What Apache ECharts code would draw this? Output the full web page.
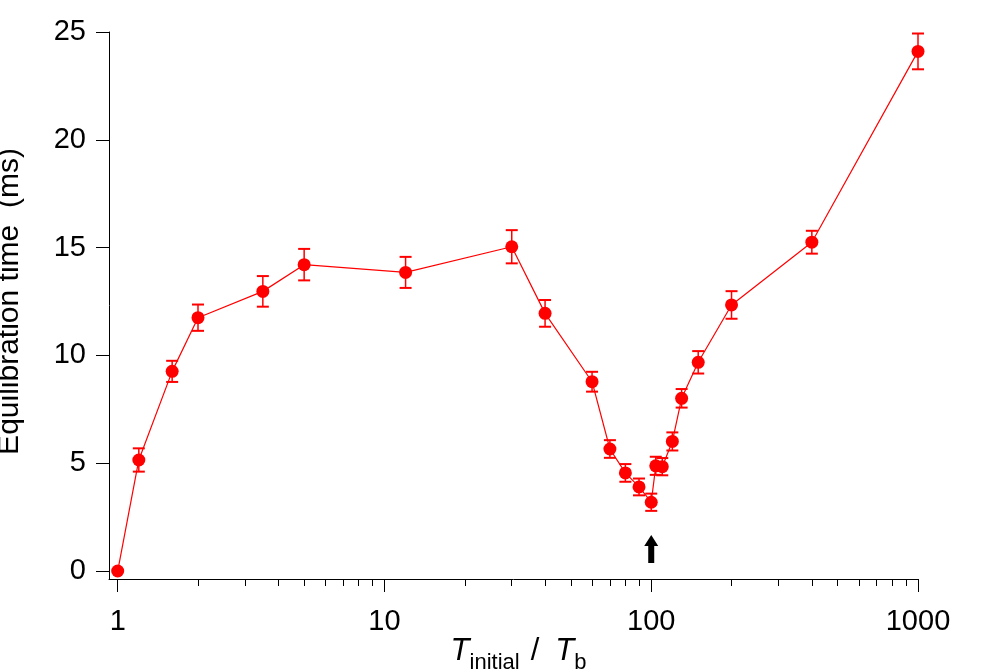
<!DOCTYPE html>
<html>
<head>
<meta charset="utf-8">
<script src="https://cdn.jsdelivr.net/npm/echarts@6/dist/echarts.min.js"></script>
<style>
  html, body { margin: 0; padding: 0; background: #fff; }
  #div-chart { width: 997px; height: 672px; }
</style>
</head>
<body>
<div id="div-chart"></div>
<script>
// T_initial / T_b
var ratioValues = [1, 1.2, 1.6, 2, 3.5, 5, 12, 30, 40, 60, 70, 80, 90, 100, 104, 110, 120, 130, 150, 200, 400, 1000];
// equilibration time (ms)
var timeValues = [0, 5.15, 9.26, 11.75, 12.97, 14.21, 13.85, 15.04, 11.95, 8.78, 5.66, 4.55, 3.90, 3.19, 4.88, 4.84, 6.01, 8.01, 9.68, 12.34, 15.25, 24.1];
// error bar half-heights
var timeErrors = [0, 0.54, 0.49, 0.61, 0.71, 0.73, 0.72, 0.77, 0.62, 0.46, 0.41, 0.41, 0.39, 0.40, 0.42, 0.40, 0.42, 0.43, 0.52, 0.64, 0.53, 0.83];

var xTickLabels = [1, 10, 100, 1000];
var xMinorTicks = [2, 3, 4, 5, 6, 7, 8, 9, 20, 30, 40, 50, 60, 70, 80, 90, 200, 300, 400, 500, 600, 700, 800, 900];
var yTickLabels = [0, 5, 10, 15, 20, 25];
var arrowAt = [100, 1.02];

var FONT = 'Liberation Sans, Arial, Helvetica, sans-serif';
var RED = '#ff0000';

var myChart = echarts.init(document.getElementById('div-chart'));

var lineData = ratioValues.map(function (x, i) { return [Math.log10(x), timeValues[i]]; });
var errData = ratioValues.map(function (x, i) { return [Math.log10(x), timeValues[i] - timeErrors[i], timeValues[i] + timeErrors[i]]; });

var option = {
    animation: false,
    grid: {left: 109, right: 79, top: 32, bottom: 93, outerBoundsMode: 'none'},
    xAxis: [
        {
            type: 'value',
            min: -0.0326,
            max: 3,
            splitLine: {show: false},
            axisLine: {onZero: false, lineStyle: {color: '#000', width: 1}},
            axisTick: {customValues: xTickLabels.map(Math.log10), length: 13, lineStyle: {color: '#000'}},
            axisLabel: {
                customValues: xTickLabels.map(Math.log10),
                formatter: function (v) { return String(Math.round(Math.pow(10, v))); },
                color: '#000', fontSize: 29, fontFamily: FONT, margin: 28
            },
            name: '{it|T}{sub|initial}{n|/}{it|T}{sub|b}',
            nameLocation: 'middle',
            nameGap: 57,
            nameMoveOverlap: false,
            nameTextStyle: {
                padding: [0, 0, 0, 10],
                rich: {
                    it: {fontSize: 31, fontStyle: 'italic', fontFamily: FONT, color: '#000', lineHeight: 31, verticalAlign: 'top'},
                    n: {fontSize: 31, fontFamily: FONT, color: '#000', lineHeight: 31, verticalAlign: 'top', padding: [0, 16, 0, 11]},
                    sub: {fontSize: 22, fontFamily: FONT, color: '#000', lineHeight: 22, padding: [16, 0, 0, 0], verticalAlign: 'top'}
                }
            }
        },
        {
            type: 'value',
            min: -0.0326,
            max: 3,
            position: 'bottom',
            splitLine: {show: false},
            axisLine: {show: false, onZero: false},
            axisTick: {customValues: xMinorTicks.map(Math.log10), length: 7, lineStyle: {color: '#000'}},
            axisLabel: {show: false}
        }
    ],
    yAxis: {
        type: 'value',
        min: -0.37,
        max: 25,
        splitLine: {show: false},
        axisLine: {show: true, onZero: false, lineStyle: {color: '#000', width: 1}},
        axisTick: {show: true, customValues: yTickLabels, length: 13, lineStyle: {color: '#000'}},
        axisLabel: {customValues: yTickLabels, color: '#000', fontSize: 29, fontFamily: FONT, margin: 23},
        name: 'Equilibration time  (ms)',
        nameLocation: 'middle',
        nameGap: 84,
        nameMoveOverlap: false,
        nameTextStyle: {fontSize: 30, fontFamily: FONT, color: '#000', lineHeight: 30, padding: [0, 0, 0, 8]}
    },
    series: [
        {
            type: 'custom',
            xAxisIndex: 0,
            data: errData,
            encode: {x: 0, y: [1, 2]},
            renderItem: function (params, api) {
                var lo = api.coord([api.value(0), api.value(1)]);
                var hi = api.coord([api.value(0), api.value(2)]);
                var w = 6;
                if (hi[1] === lo[1]) return;
                return {
                    type: 'group',
                    children: [
                        {type: 'line', shape: {x1: lo[0], y1: lo[1], x2: hi[0], y2: hi[1]}, style: {stroke: RED, lineWidth: 1.5}},
                        {type: 'line', shape: {x1: lo[0] - w, y1: lo[1], x2: lo[0] + w, y2: lo[1]}, style: {stroke: RED, lineWidth: 2}},
                        {type: 'line', shape: {x1: hi[0] - w, y1: hi[1], x2: hi[0] + w, y2: hi[1]}, style: {stroke: RED, lineWidth: 2}}
                    ]
                };
            },
            z: 3
        },
        {
            type: 'line',
            xAxisIndex: 0,
            data: lineData,
            symbol: 'circle',
            symbolSize: 13,
            showAllSymbol: true,
            itemStyle: {color: RED},
            lineStyle: {color: RED, width: 1.2},
            markPoint: {
                symbol: 'path://M7,0 L14,11 L10,11 L10,28 L4,28 L4,11 L0,11 Z',
                symbolSize: [14, 28],
                itemStyle: {color: '#000'},
                label: {show: false},
                data: [{coord: [Math.log10(arrowAt[0]), arrowAt[1]]}]
            },
            z: 4
        }
    ]
};

myChart.setOption(option);
</script>
</body>
</html>
